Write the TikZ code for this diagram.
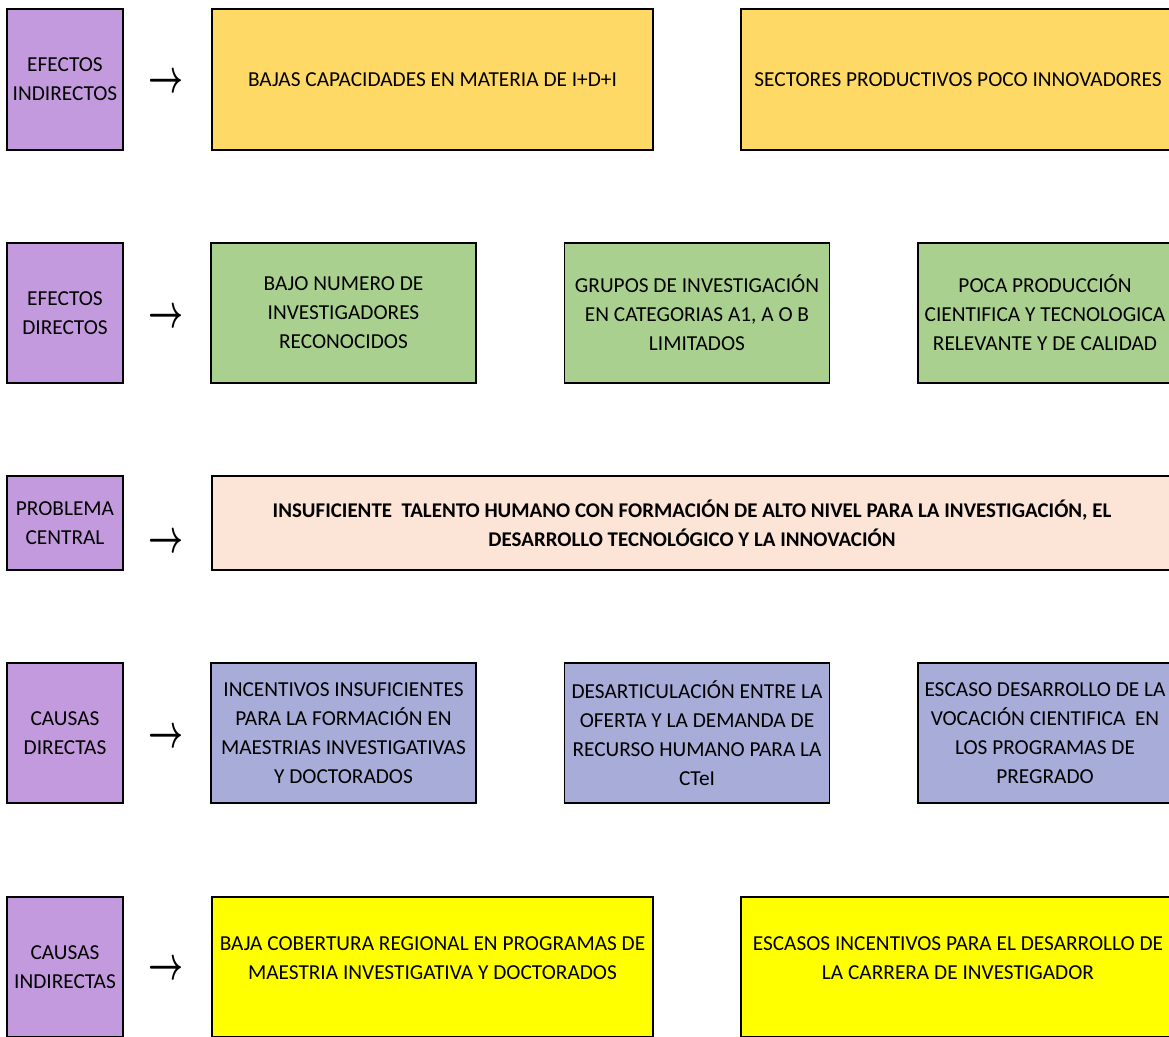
\documentclass[tikz,border=0pt]{standalone}
\usepackage{fontspec}
\usepackage{graphicx}
\setmainfont{Carlito}
\definecolor{lila}{HTML}{C49ADE}
\definecolor{oro}{HTML}{FFD966}
\definecolor{verde}{HTML}{A9D08E}
\definecolor{durazno}{HTML}{FCE4D6}
\definecolor{azul}{HTML}{A8ACD8}
\definecolor{amarillo}{HTML}{FFFF00}
\newcommand{\flechita}{\scalebox{1.1}[1.7]{\boldmath$\rightarrow$}}

\begin{document}
\begin{tikzpicture}[x=0.75pt, y=-0.75pt,
  every node/.style = {align=center, font=\fontsize{16}{21.75}\selectfont},
  caja/.style = {draw, line width=1.4pt, inner sep=0pt, minimum height=105pt},
  nivel/.style = {caja, fill=lila, minimum width=87pt},
  flecha/.style = {font=\fontsize{20}{20}\selectfont, inner sep=0pt},
  efind/.style = {caja, fill=oro},
  efdir/.style = {caja, fill=verde, minimum width=198.75pt},
  central/.style = {caja, fill=durazno, minimum height=70.5pt,
    font=\bfseries\fontsize{15.7}{21.5}\selectfont},
  causdir/.style = {caja, fill=azul, minimum width=198.75pt},
  causind/.style = {caja, fill=amarillo, text depth=13.5pt}]
  \clip (0,0) rectangle (1169,1036);

  % efectos indirectos
  \node[nivel, minimum height=105.75pt] (ei) at (65,79.5) {EFECTOS\\INDIRECTOS};
  \node[flecha] (fei) at (166,83) {\flechita};
  \node[efind, minimum height=105.75pt, minimum width=330.75pt] (ei1) at (432.5,79.5)
    {BAJAS CAPACIDADES EN MATERIA DE I+D+I};
  \node[efind, minimum height=105.75pt, minimum width=325.5pt] (ei2) at (958,79.5)
    {SECTORES PRODUCTIVOS POCO INNOVADORES};

  % efectos directos
  \node[nivel] (ed) at (65,313) {EFECTOS\\DIRECTOS};
  \node[flecha] (fed) at (166,318) {\flechita};
  \node[efdir] (ed1) at (343.5,313) {BAJO NUMERO DE\\INVESTIGADORES\\RECONOCIDOS};
  \node[efdir] (ed2) at (697,313) {GRUPOS DE INVESTIGACIÓN\\EN CATEGORIAS A1, A O B\\LIMITADOS};
  \node[efdir, minimum width=190.5pt] (ed3) at (1045,313)
    {POCA PRODUCCIÓN\\CIENTIFICA Y TECNOLOGICA\\RELEVANTE Y DE CALIDAD};

  % problema central
  \node[nivel, minimum height=70.5pt] (pc) at (65,523) {PROBLEMA\\CENTRAL};
  \node[flecha] (fpc) at (166,543) {\flechita};
  \node[central, minimum width=720pt] (pc1) at (692,523)
    {INSUFICIENTE\ \ TALENTO HUMANO CON FORMACIÓN DE ALTO NIVEL PARA LA INVESTIGACIÓN, EL\\
     DESARROLLO TECNOLÓGICO Y LA INNOVACIÓN};

  % causas directas
  \node[nivel] (cd) at (65,733) {CAUSAS\\DIRECTAS};
  \node[flecha] (fcd) at (166,738) {\flechita};
  \node[causdir] (cd1) at (343.5,733)
    {INCENTIVOS INSUFICIENTES\\PARA LA FORMACIÓN EN\\MAESTRIAS INVESTIGATIVAS\\Y DOCTORADOS};
  \node[causdir] (cd2) at (697,733)
    {DESARTICULACIÓN ENTRE LA\\OFERTA Y LA DEMANDA DE\\RECURSO HUMANO PARA LA\\CTeI};
  \node[causdir, minimum width=190.5pt] (cd3) at (1045,733)
    {ESCASO DESARROLLO DE LA\\VOCACIÓN CIENTIFICA\ \ EN\\LOS PROGRAMAS DE\\PREGRADO};

  % causas indirectas
  \node[nivel] (ci) at (65,967) {CAUSAS\\INDIRECTAS};
  \node[flecha] (fci) at (166,970) {\flechita};
  \node[causind, minimum width=330.75pt] (ci1) at (432.5,967)
    {BAJA COBERTURA REGIONAL EN PROGRAMAS DE\\MAESTRIA INVESTIGATIVA Y DOCTORADOS};
  \node[causind, minimum width=325.5pt] (ci2) at (958,967)
    {ESCASOS INCENTIVOS PARA EL DESARROLLO DE\\LA CARRERA DE INVESTIGADOR};
\end{tikzpicture}
\end{document}
